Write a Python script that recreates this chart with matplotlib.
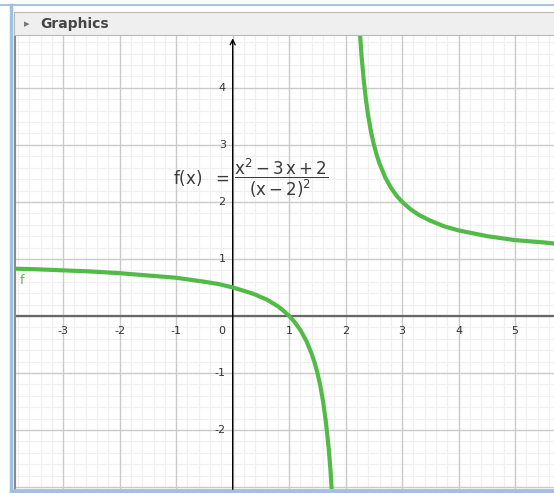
import matplotlib.pyplot as plt
import matplotlib.patches as patches
from matplotlib.lines import Line2D

# points (two branches, pole at x = 2)
left_x = [-3.9, -3.5, -3.0, -2.5, -2.0, -1.5, -1.0, -0.5, -0.25, 0.0, 0.1, 0.2,
          0.3, 0.4, 0.5, 0.6, 0.7, 0.8, 0.9, 1.0, 1.1, 1.2, 1.3, 1.4, 1.45,
          1.5, 1.55, 1.6, 1.65, 1.7, 1.73, 1.76, 1.78]
left_y = [0.83, 0.82, 0.80, 0.78, 0.75, 0.71, 0.67, 0.60, 0.56, 0.50, 0.47, 0.44,
          0.41, 0.375, 0.33, 0.29, 0.23, 0.17, 0.09, 0.0, -0.11, -0.25, -0.43,
          -0.67, -0.82, -1.0, -1.22, -1.5, -1.86, -2.33, -2.70, -3.17, -3.55]
right_x = [2.22, 2.25, 2.28, 2.32, 2.36, 2.4, 2.45, 2.5, 2.55, 2.6, 2.7, 2.8,
           2.9, 3.0, 3.15, 3.3, 3.5, 3.75, 4.0, 4.5, 5.0, 5.5, 5.8]
right_y = [5.55, 5.0, 4.57, 4.13, 3.78, 3.5, 3.22, 3.0, 2.82, 2.67, 2.43, 2.25,
           2.11, 2.0, 1.87, 1.77, 1.67, 1.57, 1.5, 1.4, 1.33, 1.29, 1.26]

x_ticks = [-3, -2, -1, 0, 1, 2, 3, 4, 5]
y_ticks = [-2, -1, 1, 2, 3, 4]
x_range = (-3.853, 5.687)
y_range = (-3.035, 4.91)

W, H = 554, 493
fig = plt.figure(figsize=(W / 100, H / 100), dpi=100)
fig.patch.set_facecolor('white')
plt.rcParams['mathtext.fontset'] = 'dejavusans'

# window frame + "Graphics" header bar
fig.add_artist(Line2D([0, 1], [1 - 5 / H, 1 - 5 / H], color='#a8c3e0', lw=1.5))
fig.add_artist(Line2D([11 / W, 11 / W], [2 / H, 1 - 5 / H], color='#9fc0e6', lw=2.5))
fig.add_artist(Line2D([11 / W, 1], [2 / H, 2 / H], color='#9fc0e6', lw=2.5))
fig.add_artist(patches.Rectangle((14 / W, 1 - 35 / H), 1, 23 / H, transform=fig.transFigure,
                                 facecolor='#efefef', edgecolor='#b8b8b8', lw=0.8))
fig.text(24 / W, 1 - 24 / H, '\u25B8', fontsize=8, color='#777777', va='center', ha='left')
fig.text(40 / W, 1 - 24 / H, 'Graphics', fontsize=10, fontweight='bold', color='#444444',
         va='center', ha='left')

ax = fig.add_axes([15 / W, 4 / H, (W - 15) / W, (489 - 36) / H])
ax.set_xlim(*x_range)
ax.set_ylim(*y_range)

# grid: major every 1, minor every 0.2
for i in range(-25, 35):
    v = i * 0.2
    major = i % 5 == 0
    c = '#cacaca' if major else '#f0f0f0'
    lw = 1.0 if major else 0.9
    ax.axvline(v, color=c, lw=lw, zorder=1 if major else 0)
    ax.axhline(v, color=c, lw=lw, zorder=1 if major else 0)

for s in ax.spines.values():
    s.set_visible(False)
ax.spines['left'].set_visible(True)
ax.spines['left'].set_color('#8a8a8a')
ax.spines['left'].set_linewidth(1.5)
ax.spines['bottom'].set_visible(True)
ax.spines['bottom'].set_color('#c4c4c4')
ax.set_xticks([])
ax.set_yticks([])

# axes
ax.axhline(0, color='#666666', lw=1.6, zorder=2)
ax.annotate('', xy=(0, 4.87), xytext=(0, y_range[0] - 0.1),
            arrowprops=dict(arrowstyle='->', lw=1.0, color='black',
                            shrinkA=0, shrinkB=0, mutation_scale=9), zorder=3)

for t in x_ticks:
    if t == 0:
        ax.annotate('0', (0, 0), xytext=(-8, -11), textcoords='offset points',
                    ha='center', va='center', fontsize=8, color='#333333')
    else:
        ax.annotate(str(t), (t, 0), xytext=(0, -11), textcoords='offset points',
                    ha='center', va='center', fontsize=8, color='#333333')
for t in y_ticks:
    ax.annotate(str(t), (0, t), xytext=(-5, 0), textcoords='offset points',
                ha='right', va='center', fontsize=8, color='#333333')

green = '#52bb47'
ax.plot(left_x, left_y, color=green, lw=3.0, solid_capstyle='round',
        solid_joinstyle='round', zorder=4)
ax.plot(right_x, right_y, color=green, lw=3.0, solid_capstyle='round',
        solid_joinstyle='round', zorder=4)
ax.text(-3.73, 0.62, 'f', color=green, fontsize=9, ha='center', va='center')

# formula: "f(x) =" left of the y axis, the fraction right of it
ax.text(-0.05, 2.42, r'$\mathrm{f(x)}\ \ =$', fontsize=12, color='#3a3a3a',
        ha='right', va='center', zorder=5)
ax.text(0.02, 2.42, r'$\dfrac{\mathrm{x}^2 - 3\,\mathrm{x} + 2}{(\mathrm{x} - 2)^2}$',
        fontsize=12, color='#3a3a3a', ha='left', va='center', zorder=5)

fig.savefig('out.png', dpi=100)
